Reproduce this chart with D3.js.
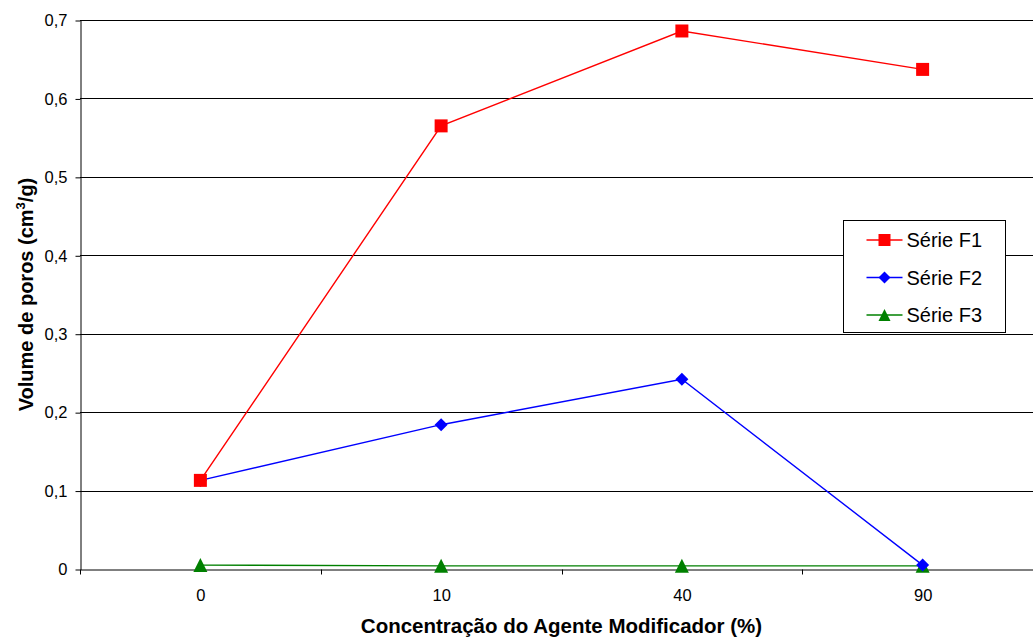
<!DOCTYPE html>
<html><head><meta charset="utf-8">
<script src="https://cdn.jsdelivr.net/npm/d3@7"></script>
<style>body{margin:0;background:#fff}svg{display:block;font-family:"Liberation Sans",Arial,sans-serif}</style>
</head><body>
<svg id="c" width="1033" height="637"></svg>
<script>
const categories = ["0","10","40","90"];
const seriesNames = ["Série F1","Série F2","Série F3"];
const seriesF1 = [0.113, 0.565, 0.686, 0.637];
const seriesF2 = [0.113, 0.184, 0.242, 0.005];
const seriesF3 = [0.005, 0.004, 0.004, 0.004];
const yTicks = [0,0.1,0.2,0.3,0.4,0.5,0.6,0.7];
const colors = ["#ff0000","#0000ff","#008000"];

const svg = d3.select("#c");
const m = {l:80, t:20, r:1043, b:569};
const x = d3.scaleBand().domain(categories).range([m.l, m.r]);
const y = d3.scaleLinear().domain([0,0.7]).range([m.b, m.t]);
const fmt = v => d3.format(".1f")(v).replace(".", ",");

// marker shapes, centred on their bounding box
const markers = [
  s => `M${-s/2},${-s/2}h${s}v${s}h${-s}Z`,
  s => `M0,${-s/2}L${s/2},0L0,${s/2}L${-s/2},0Z`,
  s => `M0,${-s/2}L${s/2},${s/2}L${-s/2},${s/2}Z`
];
const mSize = [13, 13, 14];

// grid
svg.append("g").selectAll("line").data(yTicks.filter(d=>d>0)).join("line")
  .attr("x1", m.l).attr("x2", m.r)
  .attr("y1", d=>Math.round(y(d))+0.5).attr("y2", d=>Math.round(y(d))+0.5)
  .attr("stroke","#000").attr("stroke-width",1);

// y axis
const ya = svg.append("g").attr("transform",`translate(${m.l+0.5},0.5)`)
  .call(d3.axisLeft(y).tickValues(yTicks).tickSize(5).tickSizeOuter(0).tickPadding(8)
  .tickFormat(d => d===0 ? "0" : fmt(d)));
ya.select(".domain").attr("stroke","#000");
ya.selectAll(".tick line").attr("stroke","#000");
ya.selectAll("text").attr("font-size",16.5).attr("fill","#000").style("font-family","Liberation Sans, Arial, sans-serif");

// x axis
const xa = svg.append("g").attr("transform",`translate(0.5,${Math.round(m.b)+0.5})`)
  .call(d3.axisBottom(x).tickSize(0).tickPadding(19.5));
xa.select(".domain").attr("stroke","#000");
xa.selectAll("text").attr("font-size",16.5).attr("fill","#000").style("font-family","Liberation Sans, Arial, sans-serif");
const bounds = categories.map(c=>x(c)).concat([m.r]);
xa.append("g").selectAll("line").data(bounds).join("line")
  .attr("x1",d=>Math.round(d)).attr("x2",d=>Math.round(d)).attr("y1",0).attr("y2",5).attr("stroke","#000");

// series
const all = [seriesF1, seriesF2, seriesF3];
const cx = c => x(c) + x.bandwidth()/2;
const line = d3.line().x((d,i)=>cx(categories[i])).y(d=>y(d));
[2,1,0].forEach(si => {
  svg.append("path").datum(all[si]).attr("d", line).attr("fill","none")
    .attr("stroke", colors[si]).attr("stroke-width", 1.4);
});
[2,1,0].forEach(si => {
  svg.append("g").selectAll("path").data(all[si]).join("path")
    .attr("transform",(d,i)=>`translate(${cx(categories[i])},${y(d)})`)
    .attr("d", markers[si](mSize[si])).attr("fill", colors[si]);
});

// legend
const lg = svg.append("g").attr("transform","translate(843.5,220.5)");
lg.append("rect").attr("width",162).attr("height",112).attr("fill","#fff").attr("stroke","#000").attr("stroke-width",1);
seriesNames.forEach((n,i)=>{
  const yy = 19.5 + i*37.5;
  lg.append("line").attr("x1",23).attr("x2",59).attr("y1",yy).attr("y2",yy).attr("stroke",colors[i]).attr("stroke-width",1.4);
  lg.append("path").attr("transform",`translate(41,${yy})`).attr("d", markers[i](12)).attr("fill",colors[i]);
  lg.append("text").attr("x",63).attr("y",yy).attr("dy","0.36em").attr("font-size",20).text(n);
});

// titles
svg.append("text").attr("x",(m.l+m.r)/2).attr("y",633).attr("text-anchor","middle")
  .attr("font-size",20.5).attr("font-weight","bold").text("Concentração do Agente Modificador (%)");
const yt = svg.append("text").attr("transform",`translate(33,${(m.t+m.b)/2}) rotate(-90)`)
  .attr("text-anchor","middle").attr("font-size",20).attr("font-weight","bold");
yt.append("tspan").text("Volume de poros (cm");
yt.append("tspan").attr("font-size",13).attr("dy",-8).text("3");
yt.append("tspan").attr("dy",8).text("/g)");
</script>
</body></html>
